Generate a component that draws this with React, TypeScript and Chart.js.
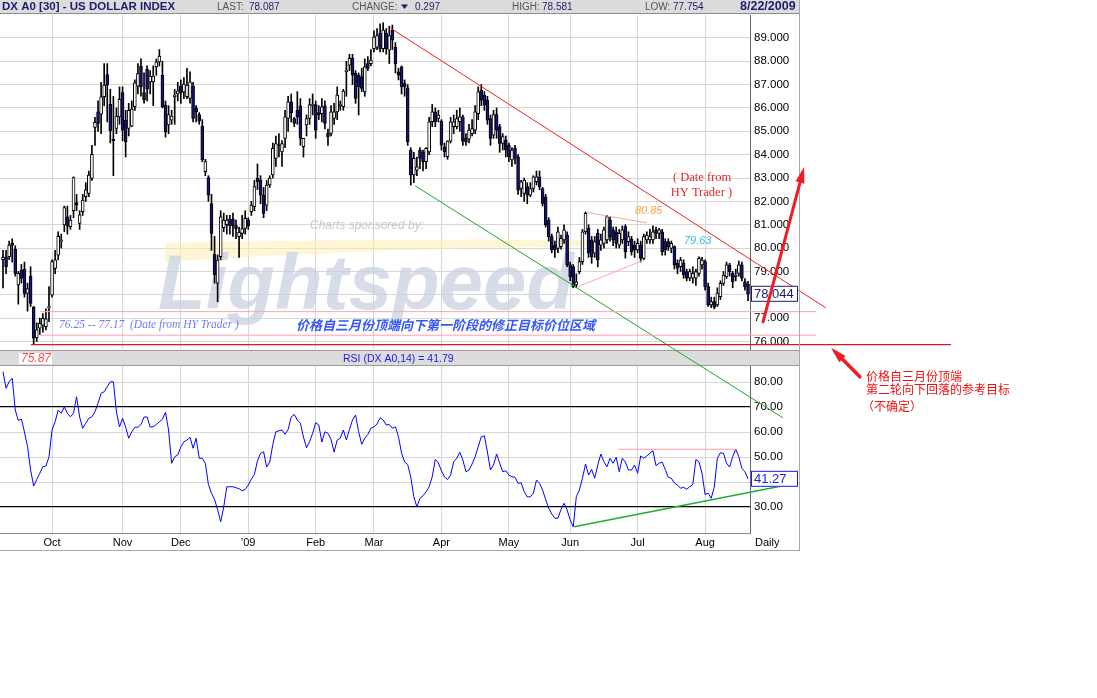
import React, { useEffect, useRef } from 'react';
import { Chart, registerables } from 'chart.js';

Chart.register(...registerables);

// ---------------- DATA ----------------
// Daily OHLC of the US Dollar Index (DX A0), Sep 2008 - Aug 21 2009
const opens = [
  79.5,79.63,79.63,80.2,79.95,78.42,79.06,79.1,78.06,78.8,77.47,76.17,76.57,76.7,76.64,77.45,
  77.99,79.13,79.7,80.3,80.99,81.34,80.92,81.6,81.95,81.06,81.56,82.2,82.34,82.98,85.17,85.83,85.73,86.48,87.43,86.16,84.67,85.12,85.62,
  86.66,85.48,85.12,85.22,86.05,86.93,87.79,86.66,87.65,87.12,87.12,87.76,87.97,87.4,86.12,85.27,85.48,86.48,86.6,
  86.93,86.69,86.48,86.41,86.93,85.98,85.72,85.22,83.27,83.02,81.91,79.73,78.5,79.63,80.87,81.0,81.24,81.24,80.96,80.49,80.63,80.84,
  81.2,81.56,81.77,83.0,82.91,82.27,81.84,82.7,83.13,83.84,84.43,84.12,84.7,85.55,86.26,85.55,85.9,86.09,84.34,85.27,85.55,86.1,
  86.15,85.8,85.76,86.09,84.91,84.91,85.55,85.83,86.1,86.05,87.55,87.83,88.12,87.48,87.4,87.33,86.69,87.9,87.9,
  88.54,88.6,89.19,88.54,89.19,88.47,89.33,88.6,87.55,87.76,87.05,86.86,84.2,83.13,83.34,84.2,84.12,83.7,84.12,85.41,85.83,85.55,
  85.44,84.34,83.91,84.58,85.2,85.2,85.41,85.62,84.7,84.66,84.9,85.05,85.76,86.76,86.55,86.33,85.55,84.84,85.72,85.2,84.48,84.62,
  84.41,83.77,84.27,83.91,82.55,82.34,82.63,82.27,82.55,82.84,83.05,82.55,82.2,81.2,80.49,80.13,79.99,80.06,80.35,80.56,
  79.28,79.21,78.42,78.99,79.42,80.7,80.85,80.35,79.78,80.63,80.13,80.2,80.35,81.2,80.78,80.7,80.13,80.35,80.92,80.28,80.38,80.13,
  79.92,80.13,79.56,80.35,80.35,80.35,80.78,80.63,80.7,80.28,80.28,79.99,80.06,79.35,79.21,79.35,78.99,78.71,78.71,78.71,78.92,79.28,
  79.42,78.35,77.57,77.71,77.57,77.92,78.49,78.78,79.28,78.92,78.78,78.92,79.28,78.56,78.45,
];
const highs = [
  79.9,79.9,80.3,80.4,80.1,79.0,79.3,79.4,78.5,79.2,77.5,76.8,77.0,77.2,77.4,78.35,
  79.5,79.9,80.7,80.6,81.8,81.8,81.4,83.05,82.3,81.6,82.3,82.8,83.3,84.4,85.6,86.3,87.1,87.9,87.9,86.8,86.5,86.0,86.9,
  86.9,85.9,86.2,86.3,87.2,87.9,88.1,87.5,87.8,87.6,87.8,88.1,88.5,88.0,86.3,86.1,85.9,86.8,87.1,
  87.2,87.3,87.7,87.55,87.1,86.1,85.8,85.5,83.8,83.1,82.3,80.5,79.7,81.6,81.5,81.4,81.4,81.5,81.2,80.9,81.4,81.6,
  81.3,82.0,82.9,83.6,83.1,82.6,82.9,83.1,84.5,84.8,84.9,84.6,85.9,86.5,86.6,85.6,86.7,86.4,84.7,85.7,86.4,86.6,
  86.3,86.1,86.4,86.3,85.1,86.1,86.2,86.9,86.3,86.8,88.0,88.3,88.3,87.6,87.5,87.7,88.1,88.2,88.5,
  89.3,89.4,89.6,89.65,89.4,89.5,89.55,88.8,87.7,87.8,87.2,87.0,84.3,84.1,83.9,84.3,84.2,84.3,85.6,86.15,86.0,85.9,
  85.5,84.5,84.6,85.6,85.7,85.9,86.0,85.7,84.9,85.3,85.5,86.1,86.9,87.0,86.7,86.5,85.7,85.9,86.0,85.3,84.9,84.8,
  84.5,84.3,84.4,84.0,82.9,83.0,82.8,82.8,83.1,83.3,83.3,82.6,82.3,81.3,80.6,80.3,80.9,80.56,81.0,80.7,
  79.4,79.3,78.9,79.6,80.8,81.55,81.0,80.5,80.5,80.8,80.6,80.9,81.4,81.35,80.9,80.9,80.8,80.95,81.0,80.7,80.5,80.3,
  80.4,80.3,80.6,80.7,80.8,80.95,80.9,80.85,80.8,80.4,80.4,80.3,80.1,79.5,79.6,79.5,79.1,79.1,79.2,79.1,79.63,79.6,
  79.5,78.5,77.9,77.9,78.3,78.6,79.0,79.4,79.35,79.0,79.1,79.45,79.4,78.7,78.58,
];
const lows = [
  78.3,78.9,79.5,79.4,78.8,77.6,78.5,77.9,77.3,77.5,75.87,76.0,76.3,76.4,76.5,76.85,
  77.9,78.9,79.5,80.0,80.7,80.6,80.8,81.3,81.6,80.8,81.4,82.0,82.2,82.9,84.4,85.0,84.9,86.1,85.4,84.5,83.1,84.9,85.3,
  84.6,83.9,84.8,85.2,85.9,86.6,86.5,86.2,86.3,86.6,86.1,87.4,87.8,86.0,84.75,84.9,85.3,85.3,86.3,
  86.2,86.4,86.4,86.2,85.4,85.4,85.3,83.7,83.1,82.0,79.9,78.5,77.7,79.5,80.7,80.6,80.6,80.5,80.4,79.6,80.4,80.6,
  80.8,81.4,81.6,82.5,81.9,81.3,81.6,82.6,83.0,83.5,83.9,83.5,84.3,85.0,85.4,85.2,85.3,84.4,83.9,84.8,85.3,85.7,
  84.7,85.5,85.4,85.1,84.4,84.8,85.3,85.5,85.9,85.9,86.5,87.6,87.0,86.2,85.7,86.7,86.5,87.6,87.8,
  88.4,88.5,88.4,88.4,88.3,87.9,88.5,87.5,87.2,86.6,86.5,84.4,82.7,82.8,83.1,83.4,83.3,83.4,84.0,85.2,85.2,85.4,
  84.2,83.9,83.8,84.5,84.9,85.1,85.0,84.4,84.4,84.5,84.8,84.9,85.5,86.1,85.9,85.3,84.4,84.7,84.7,84.1,84.2,83.9,
  83.7,83.5,83.6,82.3,82.2,82.0,81.9,82.2,82.4,82.7,82.5,81.8,80.9,80.3,79.8,79.6,79.8,79.95,80.2,79.2,
  78.6,78.3,78.3,78.9,79.3,80.6,79.6,79.35,79.6,79.2,79.9,80.0,80.2,80.3,80.1,80.0,80.0,80.2,79.57,80.1,79.7,79.6,
  79.8,79.4,79.5,80.2,80.2,80.2,80.4,80.4,79.7,79.7,79.9,79.8,79.1,78.9,79.0,78.7,78.6,78.6,78.5,78.4,78.8,79.1,
  78.2,77.5,77.45,77.4,77.5,77.8,78.4,78.7,78.8,78.3,78.6,78.8,78.6,78.2,77.75,
];
const closes = [
  79.6,79.2,80.13,80.13,78.92,78.92,78.7,78.06,78.27,77.63,76.14,76.5,76.78,76.99,76.97,77.5,
  79.42,79.5,80.5,80.35,81.73,80.94,81.2,83.02,81.84,81.42,82.06,82.5,83.13,84.01,85.38,85.34,86.48,86.98,86.98,85.02,84.6,85.65,86.37,
  85.05,84.55,85.9,85.95,87.08,87.47,86.9,86.36,86.8,87.36,87.36,87.97,88.22,86.05,84.98,85.72,85.65,86.55,86.73,
  86.65,87.02,86.98,87.12,85.55,85.83,85.44,83.77,83.7,82.27,80.63,78.85,79.49,81.34,81.2,81.2,80.96,80.96,80.82,80.67,80.84,81.27,
  80.96,81.84,82.63,82.84,82.27,81.49,82.7,83.0,84.27,84.48,84.4,84.48,85.62,86.26,85.8,85.34,85.62,84.7,84.7,85.55,86.15,86.15,
  85.05,85.7,86.05,85.34,84.77,85.83,85.83,86.55,86.15,86.72,87.62,88.12,87.4,86.41,86.9,86.84,87.76,87.69,88.05,
  89.04,89.1,88.54,89.33,88.54,89.1,88.9,87.9,87.4,86.9,86.9,84.55,83.13,83.84,83.48,83.84,83.7,84.27,85.41,85.83,85.41,85.7,
  84.41,84.12,84.58,85.41,85.41,85.55,85.62,84.58,84.55,85.05,85.12,85.83,86.69,86.33,86.12,85.48,84.7,85.72,85.05,84.48,84.77,84.2,
  83.91,84.2,83.84,82.48,82.84,82.91,82.27,82.55,83.05,83.05,82.63,81.91,80.99,80.49,79.92,79.92,80.7,80.42,80.78,79.28,
  78.78,78.35,78.56,79.42,80.7,81.49,79.78,79.63,80.28,79.49,80.35,80.78,81.35,80.49,80.35,80.2,80.63,80.78,79.85,80.49,79.85,79.92,
  80.2,79.56,80.49,80.56,80.49,80.7,80.63,80.78,79.85,79.92,80.06,80.2,79.28,79.14,79.49,78.85,78.71,78.99,78.92,78.99,79.56,79.49,
  78.35,77.57,77.71,77.47,78.07,78.49,78.85,79.28,78.99,78.56,78.85,79.28,78.71,78.35,78.05,
];
// RSI(14) values per day
const rsiValues = [
  84.1,77.5,80.1,81.5,68.8,64.6,65.2,60,54.1,44.8,
  38.4,41,43.5,46.1,46.4,50.1,60.8,64.1,68.8,67.5,
  70,67.5,66.1,67.5,74.1,66,61.5,63.5,65.5,66.1,
  68.1,71.5,75.5,76.1,78.1,80.1,80.1,68,62,65.5,
  62,57.5,60.1,61.9,61.9,63,66,66,62,62.1,
  63,64.1,65.1,67.9,60.8,47.5,50.1,50.8,54,56.1,
  56.8,57.9,53.5,57.5,49.5,49.5,47.5,39,35.5,33,
  29,24.1,30,38.1,38.1,38.1,37.7,37.3,36.5,37,
  38.8,41.1,43,48.5,51.5,52.1,46,48,55,60.1,
  60.5,60.8,59.1,61,66,67,64.8,63.5,58,53.7,
  56.1,59.5,63.7,62.8,56,60.1,59.5,57,52,56.8,
  57.5,60.8,56.8,61,64.8,66.8,60.1,55.1,57.5,59,
  61.5,62.1,63.2,65.7,64.8,62.8,63,61.5,62.1,58.1,
  51.5,48,47,42,34.1,30,33.5,34.5,36.1,38.1,
  42.1,49,47.7,44.5,42,41,42.8,48.1,49.5,51.9,
  48.8,44.1,44.8,47.2,50.1,54.1,58.1,58.5,52,44.8,
  46.8,51.2,47.5,44.1,44.5,42.8,42.1,41.9,39.5,39.7,
  36.1,34,34.1,35.5,40.8,39.5,36.8,33,29.5,27.2,
  25.5,25.5,29,31.5,28.8,24.8,22.1,34.1,36.8,41.5,
  47.2,42.8,45,41.5,46.8,51.2,48.1,46.1,49.5,47.5,
  49.9,44.1,49.5,48,44.8,44.8,46.8,43.5,50.4,49.5,
  50.4,51.5,52.5,46.5,47.5,48,45,41.9,41.5,39.5,
  38.8,37.5,37.9,37.1,38.1,39,49,48.1,43.5,35,
  35.5,33.5,38,49.5,51.7,51.5,47.5,46,50.1,53.1,
  50.1,45.5,44.1,41.3,
];

// Axis ticks / labels
const monthTickIdx = [16, 39, 58, 80, 102, 121, 143, 165, 185, 207, 229];
const monthLabels = ['Oct', 'Nov', 'Dec', "'09", 'Feb', 'Mar', 'Apr', 'May', 'Jun', 'Jul', 'Aug'];
const priceTicks = [76, 77, 78, 79, 80, 81, 82, 83, 84, 85, 86, 87, 88, 89];
const rsiTicks = [30, 40, 50, 60, 70, 80];

// Header values
const lastPrice = '78.087';
const changeVal = '0.297';
const highVal = '78.581';
const lowVal = '77.754';
const dateLabel = '8/22/2009';
const rsiHeader = '41.79';
const priceBoxVal = 78.044;
const rsiBoxVal = 41.27;

// Drawn annotations (day index, value)
const redTrend = [{ x: 126.5, y: 89.41 }, { x: 268.4, y: 77.44 }];
const greenTrend = [{ x: 134.4, y: 82.67 }, { x: 254.4, y: 72.73 }];
const triUpper = [{ x: 190.2, y: 81.53 }, { x: 210.0, y: 81.08 }];
const triLower = [{ x: 187.6, y: 78.35 }, { x: 208.9, y: 79.48 }];
const zoneTop = 77.28;
const zoneBottom = 76.27;
const zoneSpan = [12.1, 265.2];
const zoneText = '76.25 -- 77.17  (Date from HY Trader )';
const supportLevel = 75.87;
const supportSpan = [9.1, 309.2];
const rsiTrend = [{ x: 186.3, y: 22.1 }, { x: 259.4, y: 39.7 }];
const rsiResist = [{ x: 200.7, y: 53.1 }, { x: 239.3, y: 53.1 }];
const upArrow = [{ x: 247.9, y: 76.84 }, { x: 261.3, y: 83.47 }];
const noteArrow = [{ x: 279.5, y: 74.49 }, { x: 270.1, y: 75.73 }];

const SANS = '"Liberation Sans", Arial, sans-serif';
const SERIF = '"Liberation Serif", "Times New Roman", serif';
const CJK = '"Noto Sans CJK SC", sans-serif';

const X_MIN = -0.98;
const X_MAX = 243.65;
const NAVY = '#1c1c70';

function lineDs(points: any[], color: string, width: number, order = 0) {
  return {
    type: 'line',
    data: points,
    borderColor: color,
    borderWidth: width,
    pointRadius: 0,
    tension: 0,
    clip: false,
    order,
  } as any;
}

function arrow(ctx: CanvasRenderingContext2D, x1: number, y1: number, x2: number, y2: number, w: number, color: string) {
  const ang = Math.atan2(y2 - y1, x2 - x1);
  ctx.save();
  ctx.strokeStyle = color;
  ctx.fillStyle = color;
  ctx.lineWidth = w;
  ctx.lineCap = 'round';
  ctx.beginPath();
  ctx.moveTo(x1, y1);
  ctx.lineTo(x2 - Math.cos(ang) * 6, y2 - Math.sin(ang) * 6);
  ctx.stroke();
  const hl = 16, hw = 4.5;
  const bx = x2 - Math.cos(ang) * hl, by = y2 - Math.sin(ang) * hl;
  ctx.beginPath();
  ctx.moveTo(x2, y2);
  ctx.lineTo(bx + Math.sin(ang) * hw, by - Math.cos(ang) * hw);
  ctx.lineTo(bx - Math.sin(ang) * hw, by + Math.cos(ang) * hw);
  ctx.closePath();
  ctx.fill();
  ctx.restore();
}

const priceDecor = {
  id: 'priceDecor',
  beforeDraw(chart: any) {
    const ctx: CanvasRenderingContext2D = chart.ctx;
    ctx.save();
    // header band
    ctx.fillStyle = '#dcdcdc';
    ctx.fillRect(0, 0, 800, 14);
    ctx.fillStyle = '#8c8c8c';
    ctx.fillRect(0, 13, 800, 1);
    // RSI band
    ctx.fillStyle = '#dcdcdc';
    ctx.fillRect(0, 351, 800, 15);
    ctx.fillStyle = '#9a9a9a';
    ctx.fillRect(0, 350, 800, 1);
    ctx.fillRect(0, 365, 800, 1);
    ctx.fillStyle = '#ffffff';
    ctx.fillRect(19, 353, 33, 11);

    ctx.textBaseline = 'middle';
    ctx.font = `bold 11.5px ${SANS}`;
    ctx.fillStyle = NAVY;
    ctx.fillText('DX A0 [30] - US DOLLAR INDEX', 2, 7);
    ctx.font = `10px ${SANS}`;
    const lbl = (t: string, x: number, c: string) => { ctx.fillStyle = c; ctx.fillText(t, x, 7.5); };
    lbl('LAST:', 217, '#555');
    lbl(lastPrice, 249, NAVY);
    lbl('CHANGE:', 352, '#555');
    ctx.fillStyle = NAVY;
    ctx.beginPath(); ctx.moveTo(401, 4.5); ctx.lineTo(408, 4.5); ctx.lineTo(404.5, 9); ctx.closePath(); ctx.fill();
    lbl(changeVal, 415, NAVY);
    lbl('HIGH:', 512, '#555');
    lbl(highVal, 542, NAVY);
    lbl('LOW:', 645, '#555');
    lbl(lowVal, 673, NAVY);
    ctx.font = `bold 12.5px ${SANS}`;
    ctx.fillStyle = NAVY;
    ctx.fillText(dateLabel, 740, 7);

    ctx.font = `italic 12px ${SANS}`;
    ctx.fillStyle = '#ff4a4a';
    ctx.fillText(supportLevel.toFixed(2), 21, 359);
    ctx.font = `10.5px ${SANS}`;
    ctx.fillStyle = '#1a1aee';
    ctx.fillText(`RSI (DX A0,14) = ${rsiHeader}`, 343, 359);
    ctx.restore();
  },
  beforeDatasetsDraw(chart: any) {
    const ctx: CanvasRenderingContext2D = chart.ctx;
    ctx.save();
    // sponsor watermark
    ctx.fillStyle = 'rgba(255, 238, 180, 0.55)';
    ctx.beginPath();
    ctx.moveTo(165, 243);
    ctx.quadraticCurveTo(380, 238, 600, 240);
    ctx.lineTo(600, 246);
    ctx.quadraticCurveTo(380, 248, 165, 262);
    ctx.closePath();
    ctx.fill();
    ctx.font = `bold italic 78px ${SANS}`;
    ctx.fillStyle = 'rgba(200, 210, 224, 0.75)';
    ctx.textBaseline = 'alphabetic';
    ctx.fillText('Lightspeed', 158, 309);
    ctx.font = `italic 12px ${SANS}`;
    ctx.fillStyle = '#c8c8c8';
    ctx.textBaseline = 'middle';
    ctx.fillText('Charts sponsored by:', 310, 226);
    ctx.restore();
  },
  afterDraw(chart: any) {
    const ctx: CanvasRenderingContext2D = chart.ctx;
    const xs = chart.scales.x, ys = chart.scales.y;
    const X = (v: number) => xs.getPixelForValue(v);
    const Y = (v: number) => ys.getPixelForValue(v);
    ctx.save();
    // outer frame of the chart image
    ctx.fillStyle = '#a8a8a8';
    ctx.fillRect(799, 0, 1, 551);
    ctx.fillRect(0, 550, 800, 1);

    // price box
    const yb = Y(priceBoxVal);
    ctx.fillStyle = '#ffffff';
    ctx.fillRect(751, yb - 7, 47, 15);
    ctx.strokeStyle = NAVY;
    ctx.lineWidth = 1;
    ctx.strokeRect(751.5, yb - 7.5, 46, 15);
    ctx.fillStyle = NAVY;
    ctx.font = `13px ${SANS}`;
    ctx.textBaseline = 'middle';
    ctx.fillText(priceBoxVal.toFixed(3), 754, yb + 0.5);

    // texts in the price panel
    ctx.font = `italic 11.5px ${SERIF}`;
    ctx.fillStyle = '#6f7cf2';
    ctx.fillText(zoneText, X(18.3), Y(76.71));
    ctx.font = `italic bold 13px ${CJK}`;
    ctx.fillStyle = '#3557f5';
    ctx.fillText('价格自三月份顶端向下第一阶段的修正目标价位区域', X(95.6), Y(76.71));
    ctx.font = `italic 11px ${SANS}`;
    ctx.fillStyle = '#ffa040';
    ctx.fillText('80.85', X(206.1), Y(81.58));
    ctx.fillStyle = '#33bff0';
    ctx.fillText('79.63', X(222.1), Y(80.3));
    ctx.font = `12.5px ${SERIF}`;
    ctx.fillStyle = '#e8262e';
    ctx.fillText('( Date from', X(218.5), Y(83.0));
    ctx.fillText('HY Trader )', X(217.8), Y(83.0) + 15);

    // hand drawn arrows
    arrow(ctx, X(upArrow[0].x), Y(upArrow[0].y), X(upArrow[1].x), Y(upArrow[1].y), 3, '#ee1c24');
    arrow(ctx, X(noteArrow[0].x), Y(noteArrow[0].y), X(noteArrow[1].x), Y(noteArrow[1].y), 3.5, '#ee1c24');

    // note on the right
    const nx = X(281.5), ny = Y(74.49);
    ctx.font = `12px ${CJK}`;
    ctx.fillStyle = '#ee1111';
    ctx.fillText('价格自三月份顶端', nx, ny);
    ctx.fillText('第二轮向下回落的参考目标', nx, ny + 13);
    ctx.fillText('（不确定）', nx - 4, ny + 30);
    ctx.restore();
  },
};

const rsiDecor = {
  id: 'rsiDecor',
  afterDraw(chart: any) {
    const ctx: CanvasRenderingContext2D = chart.ctx;
    const ys = chart.scales.y;
    ctx.save();
    const yb = ys.getPixelForValue(rsiBoxVal);
    ctx.fillStyle = '#ffffff';
    ctx.fillRect(751, yb - 7, 47, 15);
    ctx.strokeStyle = '#1a1aee';
    ctx.lineWidth = 1;
    ctx.strokeRect(751.5, yb - 7.5, 46, 15);
    ctx.fillStyle = '#1a1aee';
    ctx.font = `13px ${SANS}`;
    ctx.textBaseline = 'middle';
    ctx.fillText(rsiBoxVal.toFixed(2), 754, yb + 0.5);
    ctx.fillStyle = '#000';
    ctx.font = `11px ${SANS}`;
    ctx.fillText('Daily', 755, chart.chartArea.bottom + 10);
    ctx.restore();
  },
};

const xScale = (showTicks: boolean) => ({
  type: 'linear',
  min: X_MIN,
  max: X_MAX,
  offset: false,
  afterBuildTicks: (s: any) => { s.ticks = monthTickIdx.map((v) => ({ value: v })); },
  afterFit: (s: any) => { s.height = showTicks ? 17 : 0; },
  ticks: {
    display: showTicks,
    autoSkip: false,
    maxRotation: 0,
    padding: 3,
    color: '#000',
    font: { family: SANS, size: 11 },
    callback: (v: any) => { const k = monthTickIdx.indexOf(Number(v)); return k >= 0 ? monthLabels[k] : ''; },
  },
  grid: { color: '#d6d6d6', drawTicks: false, offset: false },
  border: { display: showTicks, color: '#888' },
});

export default function App() {
  const priceRef = useRef<HTMLCanvasElement>(null);
  const rsiRef = useRef<HTMLCanvasElement>(null);

  useEffect(() => {
    const idx = opens.map((_, i) => i);
    const wickData = idx.map((i) => ({ x: i, y: [lows[i], highs[i]] }));
    const bodyData = idx.map((i) => ({ x: i, y: [opens[i], closes[i]] }));
    const bodyColors = idx.map((i) => (closes[i] >= opens[i] ? '#ffffff' : '#14147e'));

    const price = new Chart(priceRef.current as HTMLCanvasElement, {
      type: 'bar',
      data: {
        datasets: [
          { type: 'bar', data: wickData, backgroundColor: '#000', borderWidth: 0, barThickness: 1, grouped: false, order: 3 } as any,
          { type: 'bar', data: bodyData, backgroundColor: bodyColors, borderColor: '#000', borderWidth: 1, borderSkipped: false, barThickness: 3, grouped: false, order: 2 } as any,
          lineDs([{ x: zoneSpan[0], y: zoneTop }, { x: zoneSpan[1], y: zoneTop }], '#ffa3ab', 1),
          lineDs([{ x: zoneSpan[0], y: zoneBottom }, { x: zoneSpan[1], y: zoneBottom }], '#ffa3ab', 1),
          lineDs([{ x: supportSpan[0], y: supportLevel }, { x: supportSpan[1], y: supportLevel }], '#e0141c', 1.3),
          lineDs(triUpper, '#ffa0a8', 1),
          lineDs(triLower, '#ffa0a8', 1),
          lineDs(redTrend, '#ee2020', 1),
          lineDs(greenTrend, '#1fa52a', 1),
        ],
      },
      options: {
        responsive: false,
        maintainAspectRatio: false,
        animation: false,
        devicePixelRatio: 1,
        events: [],
        layout: { padding: { top: 15, left: 0, right: 297, bottom: 349 } },
        plugins: { legend: { display: false }, tooltip: { enabled: false } },
        scales: {
          x: xScale(false) as any,
          y: {
            type: 'linear',
            position: 'right',
            min: 75.68,
            max: 89.98,
            afterBuildTicks: (s: any) => { s.ticks = priceTicks.map((v) => ({ value: v })); },
            afterFit: (s: any) => { s.width = 50; },
            ticks: { callback: (v: any) => Number(v).toFixed(3), color: '#000', padding: 4, font: { family: SANS, size: 11.5 } },
            grid: { color: '#d6d6d6', drawTicks: false },
            border: { display: true, color: '#666' },
          },
        },
      },
      plugins: [priceDecor],
    } as any);

    const rsi = new Chart(rsiRef.current as HTMLCanvasElement, {
      type: 'line',
      data: {
        datasets: [
          lineDs(rsiResist, '#ff9aa2', 1.2, 1),
          lineDs(rsiTrend, '#22aa33', 1.5, 0),
          { data: idx.map((i) => ({ x: i, y: rsiValues[i] })), borderColor: '#0000ff', borderWidth: 1, pointRadius: 0, tension: 0, order: 2 } as any,
        ],
      },
      options: {
        responsive: false,
        maintainAspectRatio: false,
        animation: false,
        devicePixelRatio: 1,
        events: [],
        layout: { padding: { top: 366, left: 0, right: 297, bottom: 148 } },
        plugins: { legend: { display: false }, tooltip: { enabled: false } },
        scales: {
          x: xScale(true) as any,
          y: {
            type: 'linear',
            position: 'right',
            min: 19.6,
            max: 86.4,
            afterBuildTicks: (s: any) => { s.ticks = rsiTicks.map((v) => ({ value: v })); },
            afterFit: (s: any) => { s.width = 50; },
            ticks: { callback: (v: any) => Number(v).toFixed(2), color: '#000', padding: 4, font: { family: SANS, size: 11.5 } },
            grid: {
              drawTicks: false,
              color: (c: any) => (c.tick && (c.tick.value === 70 || c.tick.value === 30) ? '#000' : '#d6d6d6'),
              lineWidth: (c: any) => (c.tick && (c.tick.value === 70 || c.tick.value === 30) ? 1.3 : 1),
            },
            border: { display: true, color: '#666' },
          },
        },
      },
      plugins: [rsiDecor],
    } as any);

    return () => { price.destroy(); rsi.destroy(); };
  }, []);

  const cv: React.CSSProperties = { position: 'absolute', left: 0, top: 0, width: 1097, height: 698 };
  return (
    <div style={{ position: 'absolute', left: 0, top: 0, width: 1097, height: 698, background: '#fff', overflow: 'hidden' }}>
      <canvas ref={rsiRef} width={1097} height={698} style={cv} />
      <canvas ref={priceRef} width={1097} height={698} style={cv} />
    </div>
  );
}
